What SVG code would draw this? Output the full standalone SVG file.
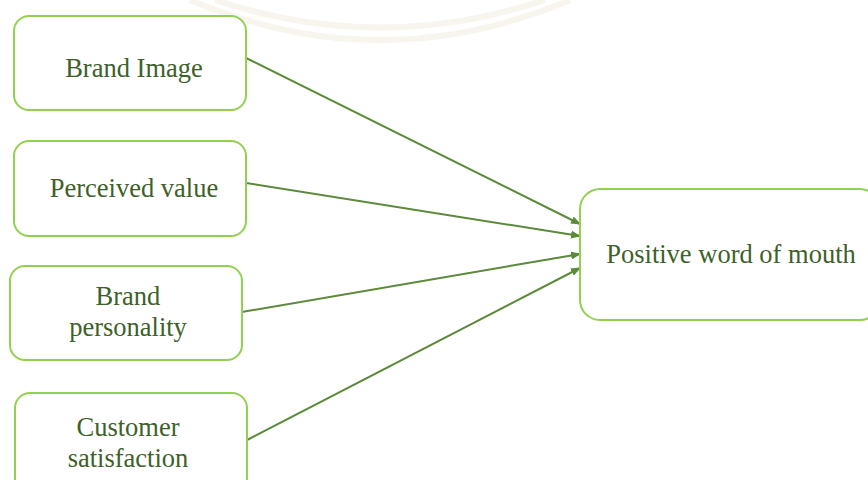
<svg xmlns="http://www.w3.org/2000/svg" width="868" height="480" viewBox="0 0 868 480">
<defs>
<style>
.box{fill:#ffffff;stroke:#92d050;stroke-width:2}
.lbl{font-family:'Liberation Serif','Tinos','DejaVu Serif',serif;font-size:26.5px;fill:#3d6128;text-anchor:middle}
.edge{stroke:#5a8a3a;stroke-width:2;fill:none;marker-end:url(#arr)}
.wm{fill:none;stroke:#f8f5ee;stroke-width:6}
</style>
<marker id="arr" markerWidth="10" markerHeight="8" refX="9" refY="4" orient="auto" markerUnits="userSpaceOnUse">
<path d="M0,0 L10,4 L0,8 Z" fill="#5a8a3a"/>
</marker>
</defs>
<rect width="868" height="480" fill="#ffffff"/>
<g id="watermark">
<path class="wm" d="M190,0 Q380,80 570,0"/>
<path class="wm" d="M215,0 Q380,55 545,0"/>
</g>
<g id="connectors">
<line class="edge" x1="246" y1="58" x2="580" y2="224"/>
<line class="edge" x1="246" y1="183" x2="580" y2="236"/>
<line class="edge" x1="242" y1="312" x2="580" y2="254"/>
<line class="edge" x1="247" y1="440" x2="580" y2="268"/>
</g>
<g id="brand-image">
<rect class="box" x="14" y="16" width="232" height="94" rx="15"/>
<text class="lbl" x="134" y="77">Brand Image</text>
</g>
<g id="perceived-value">
<rect class="box" x="14" y="141" width="232" height="95" rx="15"/>
<text class="lbl" x="134" y="197">Perceived value</text>
</g>
<g id="brand-personality">
<rect class="box" x="10" y="266" width="232" height="94" rx="15"/>
<text class="lbl" x="128" y="305">Brand</text>
<text class="lbl" x="128" y="336">personality</text>
</g>
<g id="customer-satisfaction">
<rect class="box" x="15" y="393" width="232" height="100" rx="15"/>
<text class="lbl" x="128" y="436">Customer</text>
<text class="lbl" x="128" y="467">satisfaction</text>
</g>
<g id="positive-wom">
<rect class="box" x="580" y="189" width="300" height="131" rx="20"/>
<text class="lbl" x="731" y="263">Positive word of mouth</text>
</g>
</svg>
